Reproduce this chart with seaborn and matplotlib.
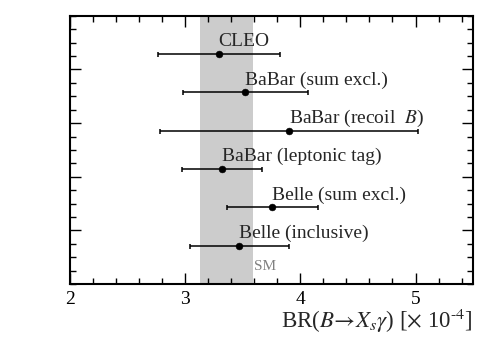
import matplotlib
matplotlib.use('Agg')
import matplotlib.pyplot as plt
import numpy as np
import pandas as pd
import seaborn as sns
from matplotlib.ticker import MultipleLocator, FixedLocator

# ------------------------------------------------------------
# Data: BR(B -> Xs gamma) measurements [x 10^-4]
# ------------------------------------------------------------
experiments = ['CLEO', 'BaBar (sum excl.)', 'BaBar (recoil  $B$)',
               'BaBar (leptonic tag)', 'Belle (sum excl.)', 'Belle (inclusive)']
central = [3.29, 3.52, 3.90, 3.32, 3.75, 3.47]
err_low = [0.53, 0.54, 1.12, 0.35, 0.39, 0.43]
err_high = [0.53, 0.55, 1.12, 0.35, 0.40, 0.43]
sm_band = (3.13, 3.59)

sns.set_theme(style='ticks')
plt.rcParams['font.family'] = ['Liberation Serif', 'DejaVu Serif']
plt.rcParams['mathtext.fontset'] = 'stix'

df = pd.DataFrame({'exp': experiments, 'br': central,
                   'lo': err_low, 'hi': err_high})
df['pos'] = np.arange(len(df), 0, -1)

fig = plt.figure(figsize=(4.98, 3.38), dpi=100)
ax = fig.add_axes([0.1406, 0.160, 0.8094, 0.793])

# SM band
ax.axvspan(sm_band[0], sm_band[1], color='#cccccc', lw=0, zorder=0)
ax.text(sm_band[1] + 0.01, 0.45, 'SM', color='#808080', fontsize=11,
        ha='left', va='center')

ax.errorbar(df['br'], df['pos'], xerr=[df['lo'], df['hi']], fmt='none',
            ecolor='black', elinewidth=1.1, capsize=1.8, capthick=1.1, zorder=2)
sns.scatterplot(data=df, x='br', y='pos', color='black', s=24,
                edgecolor='black', ax=ax, zorder=3, legend=False)

for _, r in df.iterrows():
    ax.text(r['br'], r['pos'] + 0.32, r['exp'], fontsize=14,
            ha='left', va='center')

ax.set_xlim(2, 5.5)
ax.set_ylim(0, 7)
ax.xaxis.set_major_locator(MultipleLocator(1))
ax.xaxis.set_minor_locator(MultipleLocator(0.2))
ax.yaxis.set_major_locator(FixedLocator([1.4, 2.8, 4.2, 5.6]))
ax.yaxis.set_minor_locator(FixedLocator(np.linspace(0, 7, 21)))
ax.set_yticklabels([])
ax.tick_params(which='both', direction='in', top=True, right=True,
               width=1.0, labelsize=14, colors='black')
ax.tick_params(which='major', length=8)
ax.tick_params(which='minor', length=4.5)
ax.tick_params(axis='x', pad=5)
for s in ax.spines.values():
    s.set_linewidth(1.5)
    s.set_color('black')

ax.set_xlabel(r'BR($B\!\rightarrow\!X_s\gamma$) [$\times$ 10$^{\text{-4}}$]',
              loc='right', fontsize=16.5, labelpad=-1)
ax.set_ylabel('')

plt.savefig('out.png', dpi=100)
plt.close()
